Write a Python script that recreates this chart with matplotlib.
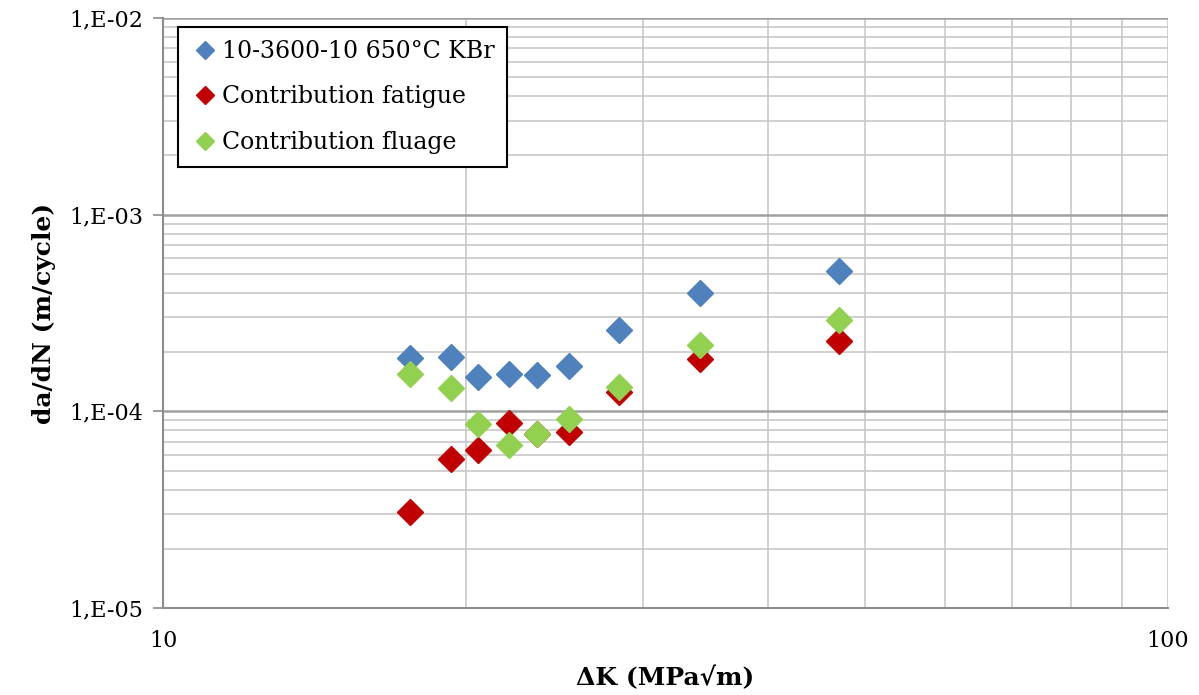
import numpy as np
import matplotlib.pyplot as plt
from matplotlib.ticker import LogLocator, FixedLocator, NullFormatter, FuncFormatter

# data
dK = [17.6, 19.35, 20.6, 22.1, 23.55, 25.35, 28.4, 34.2, 47.1]
total = [1.87e-4, 1.89e-4, 1.50e-4, 1.55e-4, 1.53e-4, 1.70e-4, 2.59e-4, 4.0e-4, 5.2e-4]
fatigue = [3.08e-5, 5.72e-5, 6.36e-5, 8.72e-5, 7.67e-5, 7.85e-5, 1.25e-4, 1.84e-4, 2.28e-4]
fluage = [1.55e-4, 1.31e-4, 8.6e-5, 6.75e-5, 7.67e-5, 9.15e-5, 1.33e-4, 2.17e-4, 2.91e-4]

labels = ['10-3600-10 650°C KBr', 'Contribution fatigue', 'Contribution fluage']
colors = ['#4F81BD', '#C00000', '#92D050']

plt.rcParams['font.family'] = ['DejaVu Serif']

fig = plt.figure(figsize=(11.99, 6.95), dpi=100)
ax = fig.add_axes([163/1199, 87/695, 1005/1199, 590/695])

for y, lab, c in zip([total, fatigue, fluage], labels, colors):
    ax.plot(dK, y, 'D', ms=13, color=c, mec=c, label=lab, zorder=3)

ax.set_xscale('log')
ax.set_yscale('log')
ax.set_xlim(10, 100)
ax.set_ylim(1e-5, 1e-2)

ax.xaxis.set_major_locator(FixedLocator([10, 100]))
ax.xaxis.set_minor_locator(FixedLocator([20, 30, 40, 50, 60, 70, 80, 90]))
ax.xaxis.set_minor_formatter(NullFormatter())
ax.xaxis.set_major_formatter(FuncFormatter(lambda v, p: '%d' % v))
ax.yaxis.set_major_locator(LogLocator(base=10))
ax.yaxis.set_minor_locator(LogLocator(base=10, subs=np.arange(2, 10)))
ax.yaxis.set_minor_formatter(NullFormatter())
ax.yaxis.set_major_formatter(FuncFormatter(lambda v, p: '1,E-%02d' % round(-np.log10(v))))

ax.grid(True, which='major', axis='y', color='#A0A0A0', lw=1.8)
ax.grid(True, which='minor', axis='y', color='#C8C8C8', lw=1.2)
ax.grid(True, which='minor', axis='x', color='#C8C8C8', lw=1.2)
ax.grid(True, which='major', axis='x', color='#C8C8C8', lw=1.2)
ax.set_axisbelow(True)

for s in ['top', 'right']:
    ax.spines[s].set_visible(False)
ax.spines['left'].set_color('#8C8C8C')
ax.spines['bottom'].set_color('#8C8C8C')
ax.spines['left'].set_linewidth(1.5)
ax.spines['bottom'].set_linewidth(1.5)

ax.tick_params(axis='y', which='major', length=7, color='#8C8C8C', width=1.2, labelsize=16, pad=7)
ax.tick_params(axis='y', which='minor', length=0)
ax.tick_params(axis='x', which='both', length=0, labelsize=16, pad=16)

ax.set_xlabel('ΔK (MPa√m)', fontsize=18, fontweight='bold', labelpad=10)
ax.set_ylabel('da/dN (m/cycle)', fontsize=18, fontweight='bold', labelpad=10)

leg = ax.legend(loc='upper left', bbox_to_anchor=(0.0149, 0.9847), borderaxespad=0,
                fontsize=17, frameon=True, fancybox=False, edgecolor='black', framealpha=1,
                handletextpad=0.1, handlelength=1.2, labelspacing=0.95, borderpad=0.55,
                markerscale=0.7)
leg.get_frame().set_linewidth(1.5)

fig.savefig('out.png', dpi=100)
